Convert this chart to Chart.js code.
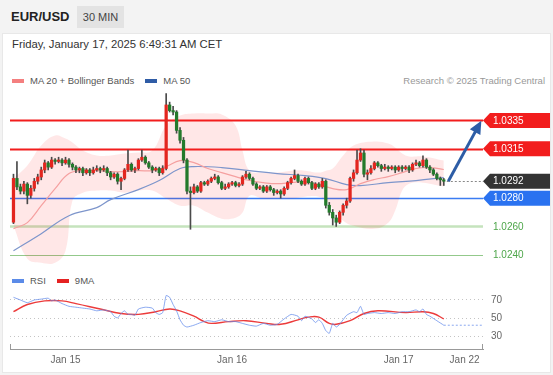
<!DOCTYPE html>
<html>
<head>
<meta charset="utf-8">
<script src="https://cdn.jsdelivr.net/npm/chart.js@4.4.1/dist/chart.umd.min.js"></script>
<style>
body { margin: 0; width: 553px; height: 375px; background: #f3f3f3; font-family: Arial, "Liberation Sans", sans-serif; position: relative; overflow: hidden; }
.sym { position: absolute; left: 11px; top: 9px; font-size: 13px; font-weight: bold; color: #222; }
.badge { position: absolute; left: 77px; top: 6px; width: 47px; height: 22px; line-height: 22px; background: #e3e3e3; font-size: 11px; color: #444; text-align: center; }
.card { position: absolute; left: 2px; top: 33px; width: 547px; height: 338px; background: #fff; border: 1px solid #e8e8e8; }
.date { position: absolute; left: 12px; top: 38px; font-size: 11.3px; color: #333; }
.leg { position: absolute; font-size: 9.5px; color: #555; line-height: 12px; white-space: nowrap; }
.sw { display: inline-block; width: 12px; height: 4px; vertical-align: 1px; margin-right: 6px; }
.src { position: absolute; right: 8px; top: 75px; font-size: 9.5px; color: #999; line-height: 12px; }
canvas { position: absolute; left: 0; }
</style>
</head>
<body>
<div class="sym">EUR/USD</div>
<div class="badge">30 MIN</div>
<div class="card"></div>
<div class="date">Friday, January 17, 2025 6:49:31 AM CET</div>
<div class="leg" style="left:12px;top:75px"><span class="sw" style="background:#f47f7f"></span>MA 20 + Bollinger Bands<span class="sw" style="background:#2f5ca6;margin-left:11px"></span>MA 50</div>
<div class="src">Research © 2025 Trading Central</div>
<div class="leg" style="left:12px;top:275px"><span class="sw" style="background:#5b8be8"></span>RSI<span class="sw" style="background:#e52222;margin-left:11px"></span>9MA</div>
<canvas id="main" width="553" height="178" style="top:88px"></canvas>
<canvas id="rsi" width="553" height="76" style="top:290px"></canvas>
<script>
// x axis: one slot per 30 min candle, first candle Jan 14 16:30
const tickIdx = [15, 63, 111, 130];
const tickLabels = ['Jan 15', 'Jan 16', 'Jan 17', 'Jan 22'];

const opens = [1.0263,1.0294,1.0288,1.0285,1.0290,1.0282,1.0287,1.0292,1.0295,1.0300,
  1.0305,1.0302,1.0307,1.0306,1.0307,1.0305,1.0307,1.0304,1.0302,1.0300,
  1.0301,1.0298,1.0300,1.0298,1.0300,1.0301,1.0300,1.0301,1.0298,1.0295,
  1.0297,1.0292,1.0294,1.0300,1.0304,1.0300,1.0301,1.0307,1.0309,1.0305,
  1.0302,1.0300,1.0301,1.0298,1.0301,1.0346,1.0342,1.0341,1.0328,1.0321,
  1.0307,1.0285,1.0284,1.0288,1.0285,1.0291,1.0290,1.0292,1.0294,1.0295,
  1.0291,1.0287,1.0288,1.0290,1.0291,1.0289,1.0290,1.0295,1.0297,1.0294,
  1.0290,1.0287,1.0288,1.0285,1.0288,1.0286,1.0284,1.0285,1.0283,1.0287,
  1.0291,1.0294,1.0296,1.0292,1.0290,1.0294,1.0291,1.0287,1.0290,1.0288,
  1.0292,1.0275,1.0270,1.0266,1.0263,1.0270,1.0275,1.0278,1.0294,1.0298,
  1.0307,1.0312,1.0297,1.0298,1.0301,1.0305,1.0303,1.0301,1.0302,1.0301,
  1.0302,1.0300,1.0302,1.0301,1.0302,1.0300,1.0304,1.0305,1.0303,1.0307,
  1.0302,1.0300,1.0297,1.0294,1.0293];
const highs = [1.0297,1.0306,1.0290,1.0292,1.0291,1.0289,1.0294,1.0297,1.0302,1.0307,
  1.0306,1.0309,1.0308,1.0309,1.0308,1.0309,1.0308,1.0305,1.0303,1.0302,
  1.0302,1.0301,1.0301,1.0302,1.0303,1.0302,1.0303,1.0302,1.0299,1.0298,
  1.0298,1.0295,1.0301,1.0314,1.0305,1.0302,1.0308,1.0314,1.0310,1.0306,
  1.0303,1.0302,1.0302,1.0303,1.0354,1.0348,1.0345,1.0342,1.0330,1.0323,
  1.0308,1.0288,1.0290,1.0289,1.0292,1.0292,1.0293,1.0295,1.0297,1.0296,
  1.0292,1.0290,1.0291,1.0292,1.0292,1.0291,1.0296,1.0299,1.0298,1.0295,
  1.0291,1.0289,1.0289,1.0289,1.0289,1.0287,1.0286,1.0286,1.0288,1.0292,
  1.0295,1.0300,1.0297,1.0293,1.0295,1.0295,1.0292,1.0291,1.0291,1.0294,
  1.0293,1.0277,1.0272,1.0268,1.0271,1.0276,1.0280,1.0295,1.0300,1.0314,
  1.0315,1.0314,1.0300,1.0303,1.0306,1.0306,1.0304,1.0304,1.0303,1.0303,
  1.0303,1.0303,1.0303,1.0303,1.0303,1.0305,1.0307,1.0306,1.0310,1.0308,
  1.0303,1.0301,1.0298,1.0295,1.0294];
const lows = [1.0262,1.0286,1.0283,1.0283,1.0276,1.0280,1.0285,1.0290,1.0293,1.0298,
  1.0300,1.0301,1.0304,1.0305,1.0303,1.0304,1.0302,1.0300,1.0298,1.0298,
  1.0296,1.0297,1.0296,1.0297,1.0299,1.0298,1.0299,1.0296,1.0293,1.0294,
  1.0290,1.0286,1.0293,1.0299,1.0299,1.0298,1.0300,1.0306,1.0304,1.0301,
  1.0298,1.0299,1.0296,1.0297,1.0300,1.0341,1.0339,1.0326,1.0319,1.0305,
  1.0283,1.0258,1.0283,1.0284,1.0284,1.0289,1.0289,1.0291,1.0293,1.0290,
  1.0286,1.0286,1.0287,1.0289,1.0288,1.0288,1.0289,1.0294,1.0293,1.0289,
  1.0286,1.0286,1.0284,1.0284,1.0285,1.0282,1.0283,1.0280,1.0282,1.0286,
  1.0290,1.0293,1.0291,1.0289,1.0289,1.0290,1.0286,1.0286,1.0287,1.0287,
  1.0273,1.0268,1.0261,1.0260,1.0262,1.0268,1.0273,1.0277,1.0292,1.0297,
  1.0306,1.0295,1.0293,1.0297,1.0300,1.0302,1.0299,1.0300,1.0299,1.0300,
  1.0298,1.0299,1.0299,1.0300,1.0298,1.0299,1.0303,1.0302,1.0302,1.0301,
  1.0298,1.0296,1.0293,1.0289,1.0289];
const closes = [1.0294,1.0288,1.0285,1.0290,1.0282,1.0287,1.0292,1.0295,1.0300,1.0305,
  1.0302,1.0307,1.0306,1.0307,1.0305,1.0307,1.0304,1.0302,1.0300,1.0301,
  1.0298,1.0300,1.0298,1.0300,1.0301,1.0300,1.0301,1.0298,1.0295,1.0297,
  1.0292,1.0294,1.0300,1.0304,1.0300,1.0301,1.0307,1.0309,1.0305,1.0302,
  1.0300,1.0301,1.0298,1.0301,1.0346,1.0342,1.0341,1.0328,1.0321,1.0307,
  1.0285,1.0284,1.0288,1.0285,1.0291,1.0290,1.0292,1.0294,1.0295,1.0291,
  1.0287,1.0288,1.0290,1.0291,1.0289,1.0290,1.0295,1.0297,1.0294,1.0290,
  1.0287,1.0288,1.0285,1.0288,1.0286,1.0284,1.0285,1.0283,1.0287,1.0291,
  1.0294,1.0296,1.0292,1.0290,1.0294,1.0291,1.0287,1.0290,1.0288,1.0292,
  1.0275,1.0270,1.0266,1.0263,1.0270,1.0275,1.0278,1.0294,1.0298,1.0307,
  1.0312,1.0297,1.0298,1.0301,1.0305,1.0303,1.0301,1.0302,1.0301,1.0302,
  1.0300,1.0302,1.0301,1.0302,1.0300,1.0304,1.0305,1.0303,1.0307,1.0302,
  1.0300,1.0297,1.0294,1.0293,1.0292];

// Bollinger bands (MA 20)
const bandIdx = [0,4,8,12,15,17,20,24,28,32,36,40,44,48,52,56,60,64,66,68,72,76,80,84,88,90,92,95,98,104,108,110,112,114,118,124];
const bandUpper = [1.02939,1.03031,1.03173,1.03244,1.03222,1.03194,1.03137,1.03102,1.03102,1.03116,
  1.03123,1.03137,1.03315,1.03385,1.03400,1.03400,1.03393,1.03315,1.03137,1.02995,
  1.02981,1.02981,1.02995,1.02995,1.02981,1.02995,1.03010,1.03102,1.03173,1.03201,
  1.03187,1.03159,1.03116,1.03095,1.03095,1.03066];
const bandLower = [1.02605,1.02372,1.02343,1.02343,1.02428,1.02783,1.02839,1.02854,1.02854,1.02839,
  1.02854,1.02854,1.02797,1.02747,1.02747,1.02698,1.02655,1.02662,1.02698,1.02818,
  1.02797,1.02797,1.02797,1.02811,1.02811,1.02783,1.02726,1.02641,1.02605,1.02584,
  1.02627,1.02712,1.02854,1.02903,1.02910,1.02882];

const ma20Idx = [0,4,8,12,16,20,24,28,32,36,40,44,48,52,56,60,64,68,72,76,80,84,88,92,96,100,104,108,112,116,120,124];
const ma20 = [1.02584,1.02627,1.02747,1.02868,1.02974,1.02995,1.02995,1.02988,1.02988,1.02995,
  1.02995,1.03024,1.03066,1.03052,1.03010,1.02981,1.02953,1.02925,1.02910,1.02903,
  1.02910,1.02917,1.02896,1.02868,1.02861,1.02903,1.02932,1.02953,1.02981,1.03010,
  1.03017,1.03003];

const ma50Idx = [0,8,16,24,28,36,42,48,52,60,68,76,84,90,96,100,108,116,124];
const ma50 = [1.02428,1.02549,1.02676,1.02733,1.02790,1.02861,1.02925,1.03010,1.03024,1.03017,
  1.02995,1.02974,1.02960,1.02939,1.02896,1.02889,1.02910,1.02925,1.02946];

// key levels: resistances, last price, supports
const levels = [1.0335, 1.0315, 1.0292, 1.0280, 1.0260, 1.0240];
const levelStyle = [
  {line: '#f21d1d', width: 2, box: '#f21d1d', text: '#fff'},
  {line: '#f21d1d', width: 2, box: '#f21d1d', text: '#fff'},
  {line: '#888', width: 1, box: '#333', text: '#fff', dotted: true},
  {line: '#3b7cf2', width: 1.5, box: '#2a72f0', text: '#fff'},
  {line: '#c5e3bd', width: 2.5, box: null, text: '#4ea64a'},
  {line: '#93c98b', width: 1, box: null, text: '#4ea64a'}
];

// forecast arrow
const arrowIdx = [125.3, 133.3];
const arrowPrice = [1.0292, 1.0328];

// RSI panel
const rsiIdx = [0,2,4,6,8,10,11,12,14,16,18,20,22,24,26,28,29,30,31,32,33,34,35,36,38,40,41,42,43,44,45,46,47,48,49,50,
  52,54,56,58,60,62,64,66,68,70,72,74,76,78,80,82,83,84,86,87,88,89,90,91,92,93,94,96,98,99,100,101,102,104,106,108,110,
  112,114,116,117,118,119,120,122,124];
const rsi = [73,70,67,70,71,72,69,70,66,63,62,61,60,58,59,57,52,50,55,58,54,54,53,60,62,61,56,54,56,75,73,65,58,48,42,40,
  42,45,47,46,48,46,46,44,42,41,44,42,43,49,54,52,47,52,49,45,48,44,36,33,44,40,43,53,57,56,63,54,55,56,55,56,55,
  57,57,59,57,60,54,52,47,42];
const rsiMaIdx = [0,4,9,14,18,25,31,36,41,45,48,52,55,57,62,67,73,77,82,85,88,91,93,97,101,105,113,118,121,124];
const rsiMa = [57,65,69,69,66,60,55,54,57,60,58,52,46,44,46,47,44,43,48,51,51,44,43,47,55,58,56,57,55,49];
const rsiTicks = [30, 50, 70];

const xMin = -1, xMax = 135.3;
Chart.defaults.font.family = 'Arial, "Liberation Sans", sans-serif';

const pts = (idx, vals) => idx.map((x, k) => ({x: x, y: vals[k]}));
const last = closes.length - 1;

const levelPlugin = {
  id: 'levels',
  beforeDatasetsDraw(chart) {
    const {ctx, chartArea: a, scales: {x, y}} = chart;
    ctx.save();
    levels.forEach((v, k) => {
      const s = levelStyle[k];
      const py = Math.round(y.getPixelForValue(v)) + 0.5;
      ctx.strokeStyle = s.line;
      ctx.lineWidth = s.width;
      ctx.setLineDash(s.dotted ? [2, 2] : []);
      ctx.beginPath();
      ctx.moveTo(s.dotted ? x.getPixelForValue(last) + 3 : a.left, py);
      ctx.lineTo(a.right, py);
      ctx.stroke();
    });
    ctx.restore();
  },
  afterDraw(chart) {
    const {ctx, chartArea: a, scales: {x, y}} = chart;
    ctx.save();
    ctx.font = '10px Arial, "Liberation Sans", sans-serif';
    ctx.textBaseline = 'middle';
    levels.forEach((v, k) => {
      const s = levelStyle[k];
      const py = y.getPixelForValue(v);
      if (s.box) {
        ctx.fillStyle = s.box;
        ctx.beginPath();
        ctx.moveTo(a.right, py);
        ctx.lineTo(a.right + 7, py - 7.5);
        ctx.lineTo(chart.width - 3, py - 7.5);
        ctx.lineTo(chart.width - 3, py + 7.5);
        ctx.lineTo(a.right + 7, py + 7.5);
        ctx.closePath();
        ctx.fill();
      }
      ctx.fillStyle = s.text;
      ctx.fillText(v.toFixed(4), a.right + 10, py + 0.5);
    });
    // arrow head at the end of the forecast line
    const x0 = x.getPixelForValue(arrowIdx[0]), y0 = y.getPixelForValue(arrowPrice[0]);
    const x1 = x.getPixelForValue(arrowIdx[1]), y1 = y.getPixelForValue(arrowPrice[1]);
    const ang = Math.atan2(y1 - y0, x1 - x0);
    const c = Math.cos(ang), sn = Math.sin(ang);
    ctx.fillStyle = '#2d5da6';
    ctx.beginPath();
    ctx.moveTo(x1 + 11 * c, y1 + 11 * sn);
    ctx.lineTo(x1 - 2 * c + 6 * sn, y1 - 2 * sn - 6 * c);
    ctx.lineTo(x1 - 2 * c - 6 * sn, y1 - 2 * sn + 6 * c);
    ctx.closePath();
    ctx.fill();
    ctx.restore();
  }
};

new Chart(document.getElementById('main'), {
  type: 'bar',
  data: {
    datasets: [
      {
        type: 'line', data: [{x: arrowIdx[0], y: arrowPrice[0]}, {x: arrowIdx[1], y: arrowPrice[1]}],
        borderColor: '#2d5da6', borderWidth: 3, pointRadius: 0, order: -1, clip: false
      },
      {
        data: closes.map((c, i) => ({x: i, y: [opens[i], c]})),
        backgroundColor: closes.map((c, i) => c >= opens[i] ? '#e3261f' : '#237a2b'),
        barThickness: 2.6, minBarLength: 1, grouped: false, order: 0
      },
      {
        data: closes.map((c, i) => ({x: i, y: [lows[i], highs[i]]})),
        backgroundColor: '#4a4a4a', barThickness: 1, grouped: false, order: 1
      },
      {
        type: 'line', data: pts(ma20Idx, ma20), borderColor: '#f5a0a0', borderWidth: 1.2,
        pointRadius: 0, tension: 0.4, order: 2
      },
      {
        type: 'line', data: pts(ma50Idx, ma50), borderColor: '#7d95cb', borderWidth: 1.2,
        pointRadius: 0, tension: 0.4, order: 2
      },
      {
        type: 'line', data: pts(bandIdx, bandUpper), borderColor: 'transparent', borderWidth: 0,
        backgroundColor: 'rgba(255,40,40,0.11)', fill: '+1', pointRadius: 0, tension: 0.4, order: 5
      },
      {
        type: 'line', data: pts(bandIdx, bandLower), borderColor: 'transparent', borderWidth: 0,
        fill: false, pointRadius: 0, tension: 0.4, order: 5
      }
    ]
  },
  options: {
    responsive: false,
    animation: false,
    layout: {padding: {left: 10, right: 70, top: 0, bottom: 0}},
    plugins: {legend: {display: false}, tooltip: {enabled: false}},
    scales: {
      x: {type: 'linear', min: xMin, max: xMax, offset: false, display: false},
      y: {min: 1.0232, max: 1.0358, display: false}
    }
  },
  plugins: [levelPlugin]
});

// axis end caps and the 70/50/30 labels of the RSI panel
const rsiDecor = {
  id: 'rsiDecor',
  afterDraw(chart) {
    const {ctx, chartArea: a, scales: {y}} = chart;
    ctx.save();
    ctx.strokeStyle = '#999';
    ctx.lineWidth = 1;
    ctx.beginPath();
    [a.left + 0.5, a.right - 0.5].forEach(px => { ctx.moveTo(px, a.bottom - 5); ctx.lineTo(px, a.bottom); });
    ctx.stroke();
    ctx.fillStyle = '#666';
    ctx.font = '10px Arial, "Liberation Sans", sans-serif';
    ctx.textBaseline = 'middle';
    rsiTicks.forEach(v => ctx.fillText(String(v), a.right + 8, y.getPixelForValue(v)));
    ctx.restore();
  }
};

new Chart(document.getElementById('rsi'), {
  type: 'line',
  data: {
    datasets: [
      {data: pts(rsiIdx, rsi), borderColor: 'rgba(100,140,235,0.75)', borderWidth: 1, pointRadius: 0, tension: 0.15},
      {data: pts(rsiMaIdx, rsiMa), borderColor: '#ec3b3b', borderWidth: 1.4, pointRadius: 0, tension: 0.4},
      {
        data: [{x: rsiIdx[rsiIdx.length - 1], y: rsi[rsi.length - 1]}, {x: xMax, y: rsi[rsi.length - 1]}],
        borderColor: 'rgba(100,140,235,0.75)', borderWidth: 1, borderDash: [2, 2], pointRadius: 0
      }
    ]
  },
  options: {
    responsive: false,
    animation: false,
    layout: {padding: {left: 10, right: 0, top: 0, bottom: 0}},
    plugins: {legend: {display: false}, tooltip: {enabled: false}},
    scales: {
      x: {
        type: 'linear', min: xMin, max: xMax,
        grid: {display: false, drawTicks: false},
        border: {display: true, color: '#999'},
        afterBuildTicks: ax => { ax.ticks = tickIdx.map(v => ({value: v})); },
        afterFit: ax => { ax.height = 17; },
        ticks: {
          color: '#666', font: {size: 10}, padding: 5, maxRotation: 0, autoSkip: false,
          callback: v => tickLabels[tickIdx.indexOf(v)]
        }
      },
      y: {
        position: 'right', min: 15.6, max: 81.1,
        grid: {color: '#c4c4c4', drawTicks: false},
        border: {display: false, dash: [1, 3]},
        afterBuildTicks: ax => { ax.ticks = rsiTicks.map(v => ({value: v})); },
        afterFit: ax => { ax.width = 70; },
        ticks: {display: false}
      }
    }
  },
  plugins: [rsiDecor]
});
</script>
</body>
</html>
